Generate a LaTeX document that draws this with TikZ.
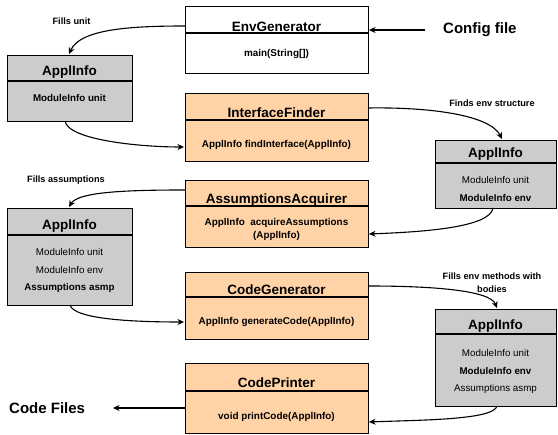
\documentclass[tikz,border=0pt]{standalone}
\usepackage{fontspec}
\setmainfont{Liberation Sans}
\usetikzlibrary{arrows.meta}
\definecolor{orangefill}{HTML}{FFD3A6}
\definecolor{grayfill}{HTML}{CCCCCC}
\tikzset{
 box/.style={draw, line width=1.3pt, anchor=north west, inner sep=0, minimum width=183pt},
 cls/.style={box, fill=orangefill},
 info/.style={box, fill=grayfill, minimum width=125pt},
 infor/.style={box, fill=grayfill, minimum width=121pt},
 plain/.style={box, fill=white},
 sep/.style={line width=1.3pt},
 title/.style={font=\bfseries\fontsize{13.5}{15}\selectfont, anchor=base, inner sep=0},
 meth/.style={font=\bfseries\fontsize{9.9}{13}\selectfont, align=center, inner sep=0},
 field/.style={font=\fontsize{9.8}{12}\selectfont, inner sep=0},
 bfield/.style={font=\bfseries\fontsize{9.8}{12}\selectfont, inner sep=0},
 lbl/.style={font=\bfseries\fontsize{9.2}{13}\selectfont, align=center, inner sep=0},
 big/.style={font=\bfseries\fontsize{15}{17}\selectfont, inner sep=0},
 conn/.style={line width=1.1pt, -{Stealth[length=6.5pt,width=6pt,inset=2pt]}},
}
\begin{document}
\begin{tikzpicture}[x=1pt,y=-1pt]
\useasboundingbox (0,0) rectangle (558,435);
% EnvGenerator
\node[plain, minimum height=67pt] (env) at (185,6) {};
\draw[sep] (185,33) -- (368,33);
\node[title] (envT) at (276.5,31.5) {EnvGenerator};
\node[meth] (envM) at (276.5,54) {main(String[])};
% ApplInfo 1
\node[info, minimum height=66pt] (ap1) at (7,55) {};
\draw[sep] (7,81) -- (132,81);
\node[title] (ap1T) at (69.5,76) {ApplInfo};
\node[bfield] (ap1a) at (69.5,98) {ModuleInfo unit};
% InterfaceFinder
\node[cls, minimum height=68pt] (inf) at (185,93) {};
\draw[sep] (185,120) -- (368,120);
\node[title] (infT) at (276.5,117.5) {InterfaceFinder};
\node[meth] (infM) at (276.5,145) {ApplInfo findInterface(ApplInfo)};
% ApplInfo 2
\node[infor, minimum height=68pt] (ap2) at (435,140) {};
\draw[sep] (435,163) -- (556,163);
\node[title] (ap2T) at (495.5,158) {ApplInfo};
\node[field] (ap2a) at (495.5,180) {ModuleInfo unit};
\node[bfield] (ap2b) at (495.5,198) {ModuleInfo env};
% AssumptionsAcquirer
\node[cls, minimum height=67pt] (acq) at (185,180) {};
\draw[sep] (185,206) -- (368,206);
\node[title] (acqT) at (276.5,204) {AssumptionsAcquirer};
\node[meth] (acqM) at (276.5,229.5) {ApplInfo\ \ acquireAssumptions\\(ApplInfo)};
% ApplInfo 3
\node[info, minimum height=97pt] (ap3) at (7,208) {};
\draw[sep] (7,235) -- (132,235);
\node[title] (ap3T) at (69.5,230) {ApplInfo};
\node[field] (ap3a) at (69.5,252) {ModuleInfo unit};
\node[field] (ap3b) at (69.5,270) {ModuleInfo env};
\node[bfield] (ap3c) at (69.5,288) {Assumptions asmp};
% CodeGenerator
\node[cls, minimum height=67pt] (gen) at (185,272) {};
\draw[sep] (185,297) -- (368,297);
\node[title] (genT) at (276.5,294.5) {CodeGenerator};
\node[meth] (genM) at (276.5,322) {ApplInfo generateCode(ApplInfo)};
% ApplInfo 4
\node[infor, minimum height=97pt] (ap4) at (435,309) {};
\draw[sep] (435,334) -- (556,334);
\node[title] (ap4T) at (495.5,330) {ApplInfo};
\node[field] (ap4a) at (495.5,353) {ModuleInfo unit};
\node[bfield] (ap4b) at (495.5,371) {ModuleInfo env};
\node[field] (ap4c) at (495.5,389) {Assumptions asmp};
% CodePrinter
\node[cls, minimum height=70pt] (prn) at (185,363) {};
\draw[sep] (185,391) -- (368,391);
\node[title] (prnT) at (276.5,388) {CodePrinter};
\node[meth] (prnM) at (276.5,417) {void printCode(ApplInfo)};
% outer labels
\node[big, anchor=west] (cfg) at (443,30) {Config file};
\node[big, anchor=west] (cf) at (9,408) {Code Files};
\node[lbl] (l1) at (71.5,21) {Fills unit};
\node[lbl] (l2) at (492,103) {Finds env structure};
\node[lbl] (l3) at (66,180) {Fills assumptions};
\node[lbl] (l4) at (492,283) {Fills env methods with\\bodies};
% connectors
\coordinate (c1s) at (185,26);
\coordinate (c1e) at (69,54);
\draw[conn] (c1s) .. controls (125,26) and (80,30) .. (c1e);
\coordinate (c2s) at (65,121);
\coordinate (c2e) at (184,147);
\draw[conn] (c2s) .. controls (68,140) and (140,147) .. (c2e);
\coordinate (c3s) at (425,30);
\coordinate (c3e) at (369,30);
\draw[conn] (c3s) -- (c3e);
\coordinate (c4s) at (368,108);
\coordinate (c4e) at (502,139);
\draw[conn] (c4s) .. controls (430,107) and (490,115) .. (c4e);
\coordinate (c5s) at (493,208);
\coordinate (c5e) at (369,234);
\draw[conn] (c5s) .. controls (490,228) and (420,232) .. (c5e);
\coordinate (c6s) at (185,190);
\coordinate (c6e) at (69,207);
\draw[conn] (c6s) .. controls (125,190) and (78,192) .. (c6e);
\coordinate (c7s) at (70,305);
\coordinate (c7e) at (184,322);
\draw[conn] (c7s) .. controls (74,320) and (140,322) .. (c7e);
\coordinate (c8s) at (368,286);
\coordinate (c8e) at (497,308);
\draw[conn] (c8s) .. controls (430,286) and (490,290) .. (c8e);
\coordinate (c9s) at (497,406);
\coordinate (c9e) at (369,422);
\draw[conn] (c9s) .. controls (494,420) and (420,420) .. (c9e);
\coordinate (c10s) at (185,408);
\coordinate (c10e) at (113,408);
\draw[conn] (c10s) -- (c10e);
\end{tikzpicture}
\end{document}
